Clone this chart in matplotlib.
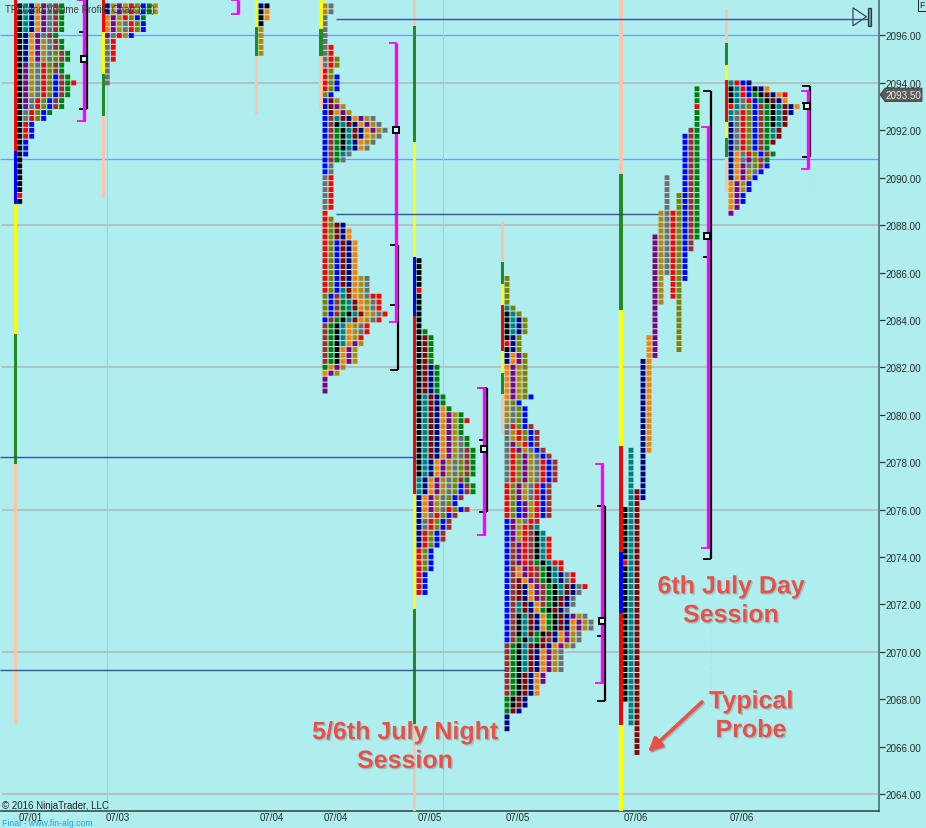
import matplotlib
matplotlib.use('Agg')
import matplotlib.pyplot as plt
import matplotlib.patheffects as pe
import numpy as np
from matplotlib.patches import Polygon, Rectangle

plt.rcParams['font.family'] = ['Liberation Sans', 'DejaVu Sans']

BG = '#AFEEEE'
TICK = 0.25

cell_colors = {'K': '#000000', 'R': '#ff0000', 'B': '#0000ff', 'N': '#000080', 'T': '#008080',
               'M': '#800080', 'O': '#ff7f00', 'D': '#b8860b', 'G': '#6e6e6e', 'L': '#808000',
               'C': '#a52a2a', 'W': '#8b0000', 'E': '#008000'}
bar_colors = {'r': '#ff0000', 'b': '#0000ff', 'y': '#ffff00', 'g': '#228b22', 'p': '#ffc2aa'}

# tpo rows, top row first
p1_top = 2097.25
p1_rows = ['KTNOMGCE', 'KTNOMGCE', 'KTNOMGCE', 'KTNOMGCE', 'KTNOMGCE', 'KNOMGCE', 'KNOMDGCE', 'KNOMDGCE',
           'KNOMDGLCE', 'KNOMDGLCE', 'KMDGRLCE', 'KMDGRLCE', 'KMDGRLBCE', 'KMDGRLBCER', 'KMDGRLBCE',
           'KMDGRLBCE', 'KMGRLBCE', 'KMGRLBCE', 'KGRLBE', 'KGRLB', 'KRB', 'KRB', 'KRB', 'KB', 'KB', 'KB',
           'K', 'K', 'K', 'K', 'K', 'K', 'R', 'K']

p2_top = 2097.25
p2_rows = ['NDMDRLBED', 'NDMDRLBED', 'OMDRLBE', 'OMDGRLB', 'OMDGRLB', 'MGRDB', 'GR', 'GR', 'GR', 'GR',
           'G', 'G', 'G', 'G']

p3_top = 2097.25
p3_rows = ['NK', 'KO', 'KO', 'K', 'D', 'D', 'D', 'D', 'D']

p4_top = 2097.25
p4_rows = ['DG', 'DG', 'G', 'G', 'G', 'G', 'G', 'GR', 'GR', 'GRL', 'GRL', 'RL', 'RLB', 'RLB', 'RLB', 'LB',
           'BWD', 'BWMD', 'BWOMD', 'BCTWNOMDG', 'BCKTWNOMDG', 'BCEKTWNOMDG', 'BCEKTWNODG', 'BCEKTNODG',
           'BCEKTNOG', 'BCETG', 'BCEG', 'BG', 'BG', 'GR', 'GR', 'GR', 'GR', 'GR', 'GR', 'R', 'RL', 'RLWN',
           'RLWNO', 'RLWNO', 'RLBWNO', 'RLBWNO', 'RLBWNO', 'RLBWNO', 'RLBWNO', 'RLBWNO', 'RLBWNODG', 'RLBWNODG',
           'RLBTWODG', 'LBCTWODGRR', 'LBCETWODGR', 'LBCETWODGR', 'LBCEKTWODGR', 'BCEKTWODGR', 'CEKTODGR',
           'CEKTODGR', 'CEKTODR', 'CEKTOMD', 'CEKOMD', 'CEKOMD', 'CEKOMD', 'EOMD', 'OMD', 'M', 'M', 'M']

p5_top = 2086.5
p5_rows = ['K', 'K', 'K', 'K', 'K', 'R', 'K', 'K', 'K', 'K', 'K', 'K', 'KE', 'KWE', 'KWE', 'KWE', 'KWE', 'KWE',
           'KWNE', 'KWNE', 'KWNE', 'KWNE', 'KWNE', 'KTWNE', 'KTWNE', 'KTWNOE', 'KTWNOMDE', 'KTWNOMDER',
           'KTWNOMDE', 'KTWNOMDE', 'KTWNOMDGE', 'KTWNOMDGE', 'KTWNOMDGCE', 'KTWNOMDGCE', 'KTNOMDGLCE',
           'KTNOMDGLCE', 'KTNOMDGLCE', 'TNOMDGLCE', 'TNOMDGLBCE', 'TNOMDGLBCE', 'NOMDGLBC', 'NOMDGLB',
           'NOMDGRLBC', 'NOGRLBC', 'NGRLBC', 'NGRLBC', 'NRLBC', 'NRLBC', 'NRLB', 'RLB', 'RLB', 'RLB', 'RLB',
           'RB', 'RB', 'RB', 'RB']

p6_top = 2085.75
p6_rows = ['L', 'L', 'L', 'L', 'L', 'TL', 'KTL', 'KTNL', 'KTNL', 'KTNL', 'KNL', 'RNL', 'KNL', 'NOML', 'NOML',
           'OMDL', 'OMDL', 'OMDL', 'OMDL', 'OMDL', 'OMDLB', 'DLB', 'DGLB', 'DGLB', 'DGLB', 'GRLBC', 'GDRLBC',
           'GDRLBC', 'GMDRBC', 'GRMDGBC', 'GRLMDGBC', 'GRLMDGRBC', 'GRLMDGRBC', 'GRLMDGRBC', 'GRLMDGRBC',
           'RLMDGRBC', 'RLMDGRBC', 'RLMDGRBC', 'RLBMDRBC', 'RLBMDRBC', 'RLBMDRBC', 'BMDGRC', 'BMDRCT',
           'BMDRCKT', 'BMDRCKTR', 'BCMRCKTR', 'BCMRCKTR', 'BCMRCKTR', 'BCMRCEKTRR',
           'BCOMRCEKTR', 'BCOMRCEKTNGR', 'BCWOMCEKTNGR', 'BCWNOMCEKTWNGR', 'BCWNOMCEKTWNG', 'BCWNOMCEKWNG',
           'BCTWNOCEKWNG', 'BCTWNOEKWNG', 'BCKTWNOEKWNMDG', 'BCKTWNOEKWNOMDG', 'BCKTWNOEKWNOMDG',
           'BCKTWEKWNOMDG', 'BCEKTEWCNOMDG', 'CEKTWKWNOMDG', 'CEKTWNOMDG', 'CEKTWNOMDG', 'CEKTWNOMDG',
           'CEKTWNOMDG', 'CEKWNOM', 'CEKWNOM', 'CEKWNO', 'CEKWNO', 'EKWN', 'EKWN', 'EWN', 'N', 'N', 'N']

# day session is nearly one straight column per period: letter, first price, last price
p7_letters = ['K', 'T', 'W', 'N', 'O', 'M', 'D', 'G', 'R', 'L', 'B', 'C', 'E']
p7_high = [2076.0, 2078.5, 2076.75, 2082.25, 2083.25, 2087.5, 2088.5, 2090.0, 2088.5, 2089.25, 2091.75, 2092.0, 2093.75]
p7_low = [2068.0, 2067.0, 2065.75, 2076.5, 2078.5, 2082.5, 2084.75, 2086.0, 2085.0, 2082.75, 2085.75, 2087.0, 2087.5]
p7_red_cells = [(0, 2073.75), (12, 2093.0)]

p8_top = 2094.0
p8_rows = ['TRBN', 'KTRBKNO', 'KTRBEKWNOR', 'KTGRBEKWNO', 'RTGLBCEKTWNO', 'TGRLBCEKTWN', 'TGRLBCEKTW',
           'NGRLBCEKTW', 'NGRLBCETW', 'NGRLBCETW', 'NGRLBCEW', 'NGRLBCE', 'NOGRLBCE', 'NOGMLCE', 'NOMGLCB',
           'NOMDGB', 'NOMDB', 'OMDB', 'OMDB', 'OMB', 'OMB', 'OM', 'M']

# session range bars: price boundaries, one colour per stretch
bar1_levels = [2097.5, 2091.13, 2088.89, 2083.41, 2077.92, 2066.95]
bar1_cols = 'rbygp'
bar2_levels = [2097.5, 2096.15, 2094.38, 2092.6, 2089.14]
bar2_cols = 'rygp'
bar3_levels = [2097.5, 2096.36, 2095.13, 2092.69]
bar3_cols = 'ygp'
bar4_levels = [2097.5, 2096.27, 2095.13, 2092.9]
bar4_cols = 'ygp'
bar5_levels = [2097.5, 2096.4, 2091.5, 2086.65, 2084.16, 2076.65, 2071.8, 2066.95, 2063.3]
bar5_cols = 'pgybrygp'
bar6_levels = [2088.17, 2086.44, 2085.51, 2084.63, 2082.69, 2081.76, 2080.87, 2079.14]
bar6_cols = 'pgyrygp'
bar7_levels = [2097.5, 2090.16, 2084.42, 2078.68, 2074.21, 2071.63, 2066.91, 2063.3]
bar7_cols = 'pgyrbry'
bar8_levels = [2097.12, 2095.68, 2094.76, 2094.12, 2092.35, 2091.68, 2090.87, 2089.4]
bar8_cols = 'pgyrygp'

# value area brackets
mag_x = [84, 237.5, 395.5, 484, 602, 708, 807.5]
mag_high = [2097.5, 2097.5, 2095.68, 2081.13, 2077.92, 2092.14, 2093.66]
mag_low = [2092.39, 2096.9, 2083.91, 2074.92, 2068.68, 2074.38, 2090.37]
blk_x = [87, 397.6, 486.8, 604.8, 710.6, 810]
blk_high = [2097.5, 2087.16, 2081.13, 2076.15, 2093.66, 2093.87]
blk_low = [2092.9, 2081.89, 2075.9, 2067.92, 2073.9, 2090.87]
blk_mid = [2096.15, 2084.63, 2078.93, 2070.66, 2086.65, 2093.15]
poc_x = [84, 395.7, 483.5, 601.5, 707, 807]
poc_y = [2095.0, 2092.0, 2078.55, 2071.3, 2087.54, 2093.03]

price_ticks = list(range(2064, 2098, 2))
gray_levels = [2094, 2088, 2082, 2076, 2070, 2064]
blue_levels = [2096, 2090.77]
navy_levels = [2096.68, 2088.47, 2078.22, 2069.23]
navy_from = [336, 336, 0, 0]
navy_to = [870, 658, 415, 505]
date_x = [31, 118, 272, 336, 430, 518, 636, 742]
date_labels = ['07/01', '07/03', '07/04', '07/04', '07/05', '07/05', '07/06', '07/06']
last_price = 2093.5


W, H = 926, 829
fig = plt.figure(figsize=(W / 100, H / 100), dpi=100, facecolor=BG)
ax = fig.add_axes([0, (H - 812) / H, 879 / W, 812 / H], facecolor=BG)
ax.set_xlim(0, 879)
ax.set_ylim(2063.28, 2097.54)

# lines behind the profiles
for lv in gray_levels:
    ax.hlines(lv, 2, 879, color='#b4b4b4', lw=1.1, zorder=1)
for lv in blue_levels:
    ax.hlines(lv, 0, 879, color='#6f9cf2', lw=0.9, zorder=1)
for xv in [107, 443]:
    ax.vlines(xv, 2063.28, 2097.54, color='#bcc8cc', lw=0.8, zorder=1)

cx, cy, cc = [], [], []


def add_rows(start, top, rows):
    for i, row in enumerate(rows):
        for j, letter in enumerate(row):
            cx.append(start + 6 * j)
            cy.append(top - TICK * i)
            cc.append(cell_colors[letter])


add_rows(19.7, p1_top, p1_rows)
add_rows(107.3, p2_top, p2_rows)
add_rows(261, p3_top, p3_rows)
add_rows(325, p4_top, p4_rows)
add_rows(419, p5_top, p5_rows)
add_rows(507, p6_top, p6_rows)
add_rows(731, p8_top, p8_rows)

for k in range(len(p7_letters)):
    n = int(round((p7_high[k] - p7_low[k]) / TICK)) + 1
    for i in range(n):
        price = p7_high[k] - TICK * i
        letter = 'R' if (k, price) in p7_red_cells else p7_letters[k]
        cx.append(625 + 6 * k)
        cy.append(price)
        cc.append(cell_colors[letter])

cells = ax.bar(cx, [TICK * 0.82] * len(cx), width=4.9, bottom=np.array(cy) - TICK * 0.41, color=cc, linewidth=0,
               zorder=3)
for c in cells:
    c.set_snap(False)

bars = [(15.5, bar1_levels, bar1_cols), (103.4, bar2_levels, bar2_cols), (256.5, bar3_levels, bar3_cols),
        (321, bar4_levels, bar4_cols), (414.5, bar5_levels, bar5_cols), (502.5, bar6_levels, bar6_cols),
        (621, bar7_levels, bar7_cols), (726.5, bar8_levels, bar8_cols)]
for xv, levels, cols in bars:
    for k, c in enumerate(cols):
        ax.bar(xv, levels[k] - levels[k + 1], width=3.2, bottom=levels[k + 1], color=bar_colors[c], linewidth=0,
               zorder=4)

# brackets
for xv, hi, lo in zip(blk_x, blk_high, blk_low):
    ax.vlines(xv, lo, hi, color='black', lw=1.6, zorder=5)
    ax.hlines([hi, lo], xv - 8, xv, color='black', lw=1.3, zorder=5)
for xv, lv in zip(blk_x, blk_mid):
    ax.hlines(lv, xv - 8, xv - 3, color='black', lw=1.3, zorder=5)
for xv, hi, lo in zip(mag_x, mag_high, mag_low):
    ax.vlines(xv, lo, hi, color='#ff00ff', lw=2.4, zorder=6)
    ax.hlines([hi, lo], xv - 7, xv + 1.5, color='#ff00ff', lw=1.3, zorder=6)
ax.plot(poc_x, poc_y, 's', ms=4.2, mfc='#d8f4f4', mec='black', mew=1.4, zorder=7)

for lv, a, b in zip(navy_levels, navy_from, navy_to):
    ax.hlines(lv, a, b, color='#2c3f9e', lw=1.0, alpha=0.9, zorder=8)

# faint marks under the last two brackets
ax.vlines(711, 2067.4, 2071.0, color='#c4d8f4', lw=0.9, ls=(0, (3, 2)), zorder=2)
ax.vlines(811, 2089.5, 2090.3, color='#c4d8f4', lw=0.9, ls=(0, (3, 2)), zorder=2)

# end-of-chart button
ax.add_patch(Polygon([(853, 2097.17), (866.5, 2096.79), (853, 2096.41)], closed=True, fc='none', ec='#3a4a50',
                     lw=0.9, zorder=9))
ax.add_patch(Rectangle((868, 2096.41), 3, 0.76, fc='#7a9aa0', ec='#2a3a40', lw=0.9, zorder=9))

# axes furniture
for s in ['top', 'left']:
    ax.spines[s].set_visible(False)
ax.spines['right'].set_color('#5f8082')
ax.spines['right'].set_linewidth(1.4)
ax.spines['bottom'].set_color('#35504f')
ax.spines['bottom'].set_linewidth(1.2)
ax.yaxis.tick_right()
ax.set_yticks(price_ticks)
ax.set_yticklabels([f'{v:.2f}' for v in price_ticks], fontsize=7.1, color='#2a2a2a')
ax.tick_params(axis='y', length=4, width=0.9, color='#333333', pad=0.8)
ax.set_xticks(date_x)
ax.set_xticklabels(date_labels, fontsize=7, color='#2a2a2a')
ax.tick_params(axis='x', length=0, pad=0.5)

ax.add_patch(Polygon([(880, last_price), (885, last_price + 0.28), (922, last_price + 0.28),
                      (922, last_price - 0.28), (885, last_price - 0.28)], closed=True, fc='#5c5c5c', ec='#3a3a3a',
                     lw=0.6, clip_on=False, zorder=10))
ax.text(903, last_price - 0.01, '2093.50', fontsize=7.1, color='#f0f0f0', ha='center', va='center', clip_on=False,
        zorder=11)

fig.text(5 / W, 1 - 10 / H, 'TPO and Volume Profile Chart (v4)', fontsize=7, color='#3c3c3c', va='center',
         zorder=12)
fig.text(2 / W, 1 - 806 / H, '© 2016 NinjaTrader, LLC', fontsize=7, color='#222222', va='center')
fig.text(2 / W, 0.5 / H, 'Final - www.fin-alg.com', fontsize=6.3, color='#2f9fd0', va='bottom')
fig.text(922 / W, 1 - 6 / H, 'F', fontsize=6.5, color='#222222', ha='center', va='center',
         bbox=dict(fc=BG, ec='#222222', lw=0.7, pad=0.8))

# red call-outs
red = '#ea5048'
shadow = [pe.SimpleLineShadow(offset=(1, -1), alpha=0.25, shadow_color='#444444'), pe.Normal()]
text_shadow = [pe.withSimplePatchShadow(offset=(1, -1), shadow_rgbFace='#555555', alpha=0.25)]
notes = [(731, 2072.15, '6th July Day\nSession'), (751, 2067.3, 'Typical\nProbe'),
         (405, 2066.0, '5/6th July Night\nSession')]
for xv, yv, label in notes:
    ax.text(xv, yv, label, fontsize=18, fontweight='bold', color=red, ha='center', va='center', linespacing=1.25,
            zorder=12, path_effects=text_shadow)
ax.annotate('', xy=(648, 2065.77), xytext=(702, 2067.88),
            arrowprops=dict(arrowstyle='-|>,head_width=0.4,head_length=0.8', color=red, lw=2.6,
                            shrinkA=0, shrinkB=0, path_effects=shadow), zorder=12)

fig.savefig('out.png', dpi=100, facecolor=BG)
